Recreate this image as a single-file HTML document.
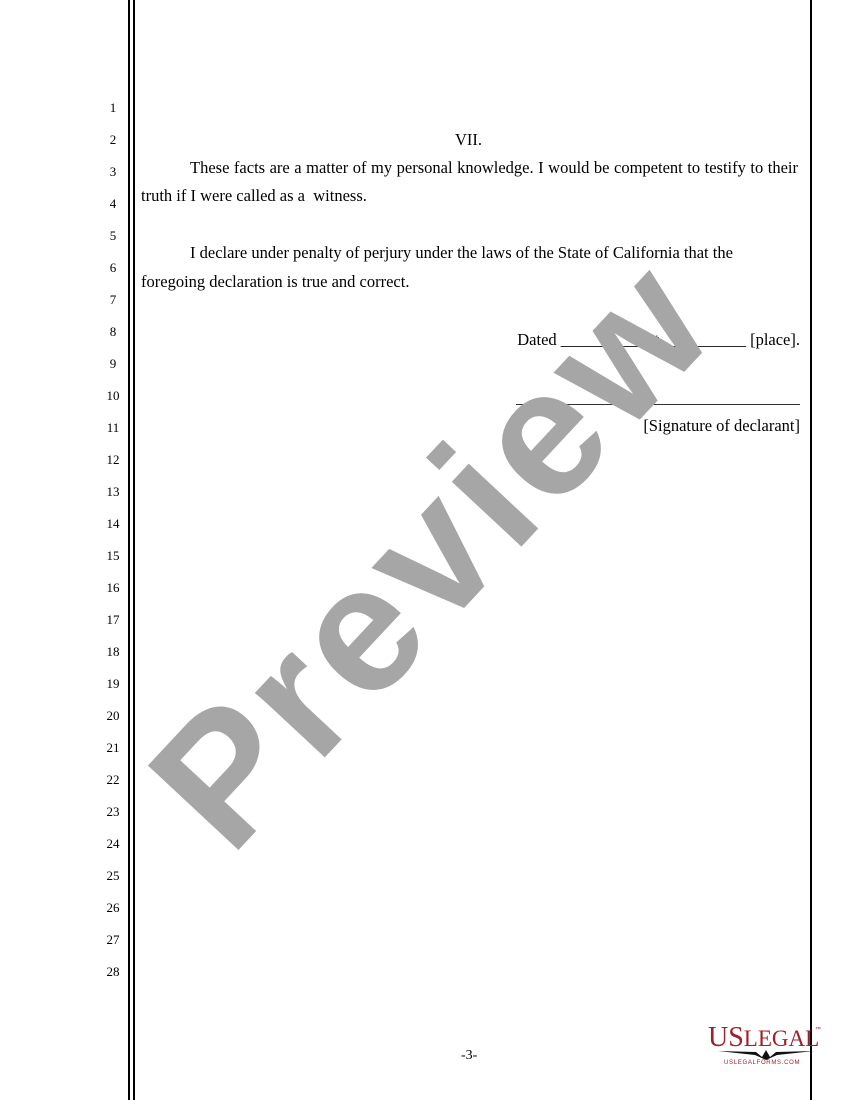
<!DOCTYPE html>
<html><head><meta charset="utf-8"><style>
html,body{margin:0;padding:0;background:#fff;}
body{width:850px;height:1100px;position:relative;overflow:hidden;font-family:"Liberation Serif",serif;color:#000;}
.vl{position:absolute;top:0;height:1100px;width:2px;background:#000;}
.n{position:absolute;left:100px;width:26px;text-align:center;font-size:13px;line-height:14px;}
.t{position:absolute;font-size:16.5px;line-height:18px;white-space:nowrap;}
.wm{position:absolute;left:432px;top:553px;transform:translate(-50%,-50%) rotate(-47deg);font-family:"Liberation Sans",sans-serif;font-weight:bold;font-size:180px;letter-spacing:6px;line-height:1;color:#a6a6a6;white-space:nowrap;}
</style></head><body>
<div class="vl" style="left:128px"></div>
<div class="vl" style="left:133px"></div>
<div class="vl" style="left:810px"></div>

<div class="n" style="top:101px">1</div>
<div class="n" style="top:133px">2</div>
<div class="n" style="top:165px">3</div>
<div class="n" style="top:197px">4</div>
<div class="n" style="top:229px">5</div>
<div class="n" style="top:261px">6</div>
<div class="n" style="top:293px">7</div>
<div class="n" style="top:325px">8</div>
<div class="n" style="top:357px">9</div>
<div class="n" style="top:389px">10</div>
<div class="n" style="top:421px">11</div>
<div class="n" style="top:453px">12</div>
<div class="n" style="top:485px">13</div>
<div class="n" style="top:517px">14</div>
<div class="n" style="top:549px">15</div>
<div class="n" style="top:581px">16</div>
<div class="n" style="top:613px">17</div>
<div class="n" style="top:645px">18</div>
<div class="n" style="top:677px">19</div>
<div class="n" style="top:709px">20</div>
<div class="n" style="top:741px">21</div>
<div class="n" style="top:773px">22</div>
<div class="n" style="top:805px">23</div>
<div class="n" style="top:837px">24</div>
<div class="n" style="top:869px">25</div>
<div class="n" style="top:901px">26</div>
<div class="n" style="top:933px">27</div>
<div class="n" style="top:965px">28</div>

<div class="t" style="left:455px;top:131px">VII.</div>
<div class="t" style="left:190px;top:159px;width:608px;text-align:justify;text-align-last:justify;white-space:normal;">These facts are a matter of my personal knowledge. I would be competent to testify to their</div>
<div class="t" style="left:141px;top:187px">truth if I were called as a&nbsp; witness.</div>
<div class="t" style="left:190px;top:244px">I declare under penalty of perjury under the laws of the State of California that the</div>
<div class="t" style="left:141px;top:273px">foregoing declaration is true and correct.</div>
<div class="t" style="right:50px;top:331px">Dated __________ at __________ [place].</div>
<div style="position:absolute;left:516px;top:404px;width:284px;height:1px;background:#333;"></div>
<div class="t" style="right:50px;top:417px">[Signature of declarant]</div>
<div class="t" style="left:461px;top:1047px;font-size:14px">-3-</div>

<div class="wm">Preview</div>

<div style="position:absolute;left:708px;top:1023px;font-family:'Liberation Serif',serif;font-size:28px;line-height:30px;color:#a0202a;">US<span style="font-size:23px">LEGAL</span></div>
<div style="position:absolute;left:815px;top:1027px;font-size:6px;color:#a0202a;font-family:'Liberation Sans',sans-serif;">™</div>
<svg style="position:absolute;left:718px;top:1048px" width="96" height="12" viewBox="0 0 96 12">
<path d="M0 3 L38 4 L44 9 L48 2 L52 9 L58 4 L96 3 L59 7 L48 12 L37 7 Z" fill="#111"/>
</svg>
<div style="position:absolute;left:724px;top:1060px;font-family:'Liberation Sans',sans-serif;font-size:6px;color:#a0202a;letter-spacing:0.7px;">USLEGALFORMS.COM</div>
</body></html>
